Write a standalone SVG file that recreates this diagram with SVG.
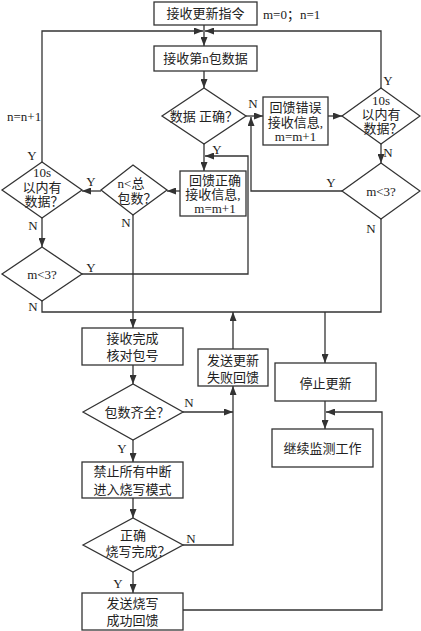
<svg xmlns="http://www.w3.org/2000/svg" width="421" height="631" viewBox="0 0 421 631">
<style>
.n{fill:#fff;stroke:#333;stroke-width:1.3}
.c{fill:none;stroke:#333;stroke-width:1.3}
text{font-family:"Liberation Serif","Noto Sans CJK SC",serif;font-size:13px;fill:#222;text-anchor:middle}
.s{text-anchor:start}
</style>
<defs>
<marker id="a" markerUnits="userSpaceOnUse" markerWidth="9" markerHeight="7" refX="9" refY="3.5" orient="auto">
<path d="M0,0 L9,3.5 L0,7 z" fill="#333"/>
</marker>
</defs>
<rect width="421" height="631" fill="#fff"/>
<g id="connectors">
<path class="c" d="M204,25 V46" marker-end="url(#a)"/>
<path class="c" d="M42,162 V31 H203" marker-end="url(#a)"/>
<path class="c" d="M381,88 V31 H205" marker-end="url(#a)"/>
<path class="c" d="M204,71 V88" marker-end="url(#a)"/>
<path class="c" d="M246,116 H263" marker-end="url(#a)"/>
<path class="c" d="M328,116 H342" marker-end="url(#a)"/>
<path class="c" d="M381,144 V163" marker-end="url(#a)"/>
<path class="c" d="M342,191 H251 V117" marker-end="url(#a)"/>
<path class="c" d="M204,144 V171" marker-end="url(#a)"/>
<path class="c" d="M82,274 H248 V156 H205" marker-end="url(#a)"/>
<path class="c" d="M180,191 H167" marker-end="url(#a)"/>
<path class="c" d="M101,191 H82" marker-end="url(#a)"/>
<path class="c" d="M42,218 V247" marker-end="url(#a)"/>
<path class="c" d="M42,301 V312 H381 V219"/>
<path class="c" d="M133,215 V328" marker-end="url(#a)"/>
<path class="c" d="M133,365 V384" marker-end="url(#a)"/>
<path class="c" d="M183,412 H233" marker-end="url(#a)"/>
<path class="c" d="M133,440 V462" marker-end="url(#a)"/>
<path class="c" d="M133,498 V518" marker-end="url(#a)"/>
<path class="c" d="M183,545 H233 V386" marker-end="url(#a)"/>
<path class="c" d="M133,572 V593" marker-end="url(#a)"/>
<path class="c" d="M233,349 V312" marker-end="url(#a)"/>
<path class="c" d="M325,312 V363" marker-end="url(#a)"/>
<path class="c" d="M325,401 V429" marker-end="url(#a)"/>
<path class="c" d="M183,610 H382 V412 H326" marker-end="url(#a)"/>
</g>
<g id="labels">
<text x="263" y="19" class="s">m=0；n=1</text>
<text x="7" y="121" class="s">n=n+1</text>
<text x="32" y="160">Y</text>
<text x="253" y="108">N</text>
<text x="388" y="85">Y</text>
<text x="388" y="157">N</text>
<text x="217" y="154">Y</text>
<text x="331" y="187">Y</text>
<text x="371" y="233">N</text>
<text x="91" y="186">Y</text>
<text x="33" y="230">N</text>
<text x="126" y="227">N</text>
<text x="91" y="272">Y</text>
<text x="33" y="311">N</text>
<text x="189" y="407">N</text>
<text x="122" y="453">Y</text>
<text x="191" y="543">N</text>
<text x="118" y="588">Y</text>
</g>
<g id="start"><rect class="n" x="154" y="2" width="103" height="23"/><text x="205.5" y="18">接收更新指令</text></g>
<g id="recv"><rect class="n" x="154" y="46" width="103" height="25"/><text x="205.5" y="63">接收第n包数据</text></g>
<g id="check"><polygon class="n" points="162,116 204,88 246,116 204,144"/><text x="204" y="121">数据 正确？</text></g>
<g id="errfb"><rect class="n" x="263" y="97" width="65" height="48"/><text x="295.5" y="112">回馈错误</text><text x="295.5" y="127">接收信息,</text><text x="295.5" y="141">m=m+1</text></g>
<g id="wait1"><polygon class="n" points="342,116 381,88 420,116 381,144"/><text x="381" y="105">10s</text><text x="381" y="119">以内有</text><text x="383" y="133">数据？</text></g>
<g id="m1"><polygon class="n" points="342,191 381,163 420,191 381,219"/><text x="381" y="196">m&lt;3?</text></g>
<g id="okfb"><rect class="n" x="180" y="171" width="66" height="45"/><text x="215" y="185">回馈正确</text><text x="213" y="199">接收信息,</text><text x="215" y="213">m=m+1</text></g>
<g id="ncheck"><polygon class="n" points="101,190 133,165 167,190 133,215"/><text x="131" y="188">n&lt;总</text><text x="137" y="203">包数？</text></g>
<g id="wait2"><polygon class="n" points="2,190 42,162 82,190 42,218"/><text x="42" y="177">10s</text><text x="42" y="192">以内有</text><text x="44" y="206">数据？</text></g>
<g id="m2"><polygon class="n" points="2,274 42,247 82,274 42,301"/><text x="42" y="279">m&lt;3?</text></g>
<g id="done"><rect class="n" x="82" y="328" width="101" height="37"/><text x="132.5" y="343">接收完成</text><text x="132.5" y="360">核对包号</text></g>
<g id="full"><polygon class="n" points="83,412 133,384 183,412 133,440"/><text x="137" y="417">包数齐全？</text></g>
<g id="burnmode"><rect class="n" x="82" y="462" width="101" height="36"/><text x="132.5" y="476">禁止所有中断</text><text x="132.5" y="494">进入烧写模式</text></g>
<g id="burnok"><polygon class="n" points="83,545 133,518 183,545 133,572"/><text x="133" y="540">正确</text><text x="138" y="556">烧写完成？</text></g>
<g id="okreport"><rect class="n" x="82" y="593" width="101" height="37"/><text x="132.5" y="608">发送烧写</text><text x="132.5" y="625">成功回馈</text></g>
<g id="failreport"><rect class="n" x="198" y="349" width="70" height="37"/><text x="233" y="365">发送更新</text><text x="233" y="382">失败回馈</text></g>
<g id="stop"><rect class="n" x="275" y="363" width="101" height="38"/><text x="325.5" y="388">停止更新</text></g>
<g id="monitor"><rect class="n" x="272" y="429" width="101" height="38"/><text x="322.5" y="453">继续监测工作</text></g>
</svg>
